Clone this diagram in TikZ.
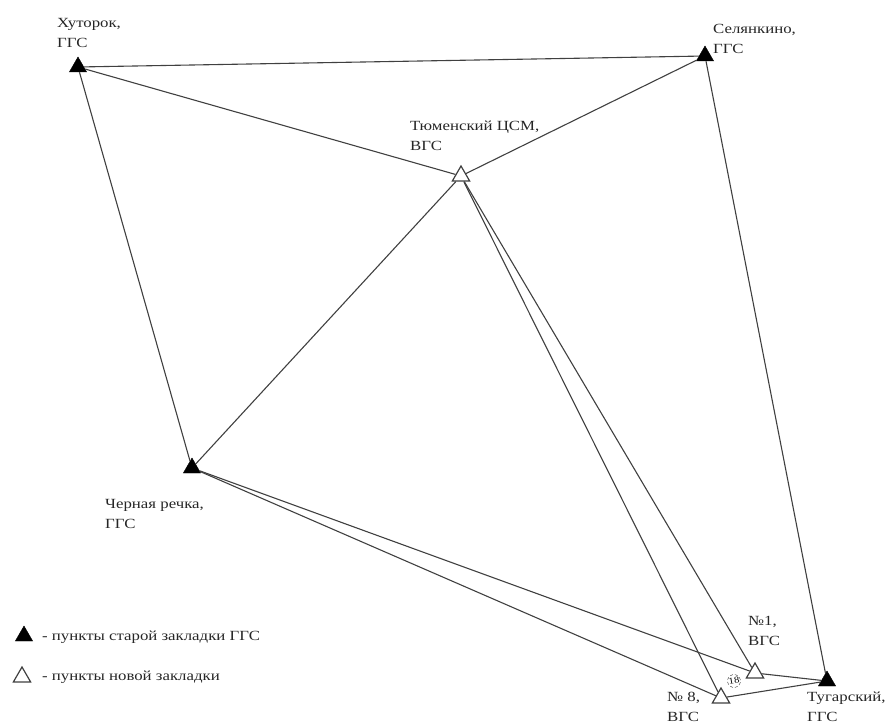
\documentclass[tikz,border=0pt]{standalone}
\usepackage{fontspec}
\setmainfont{Liberation Serif}[FakeStretch=1.2]
\usetikzlibrary{shapes.geometric}

\tikzset{
  oldpt/.style={regular polygon, regular polygon sides=3, minimum size=20pt,
    inner sep=0pt, fill=black, draw=black},
  newpt/.style={regular polygon, regular polygon sides=3, minimum size=20pt,
    inner sep=0pt, fill=white, draw=black!75, line width=1.2pt},
  ptlabel/.style={anchor=north west, align=left, inner sep=0pt,
    text=black!85, font=\fontsize{14}{20}\selectfont},
  legtext/.style={anchor=base west, inner sep=0pt,
    text=black!85, font=\fontsize{14}{20}\selectfont},
  link/.style={line width=1.1pt, draw=black!75},
}

\begin{document}
\begin{tikzpicture}[x=1pt, y=-1pt]
  \useasboundingbox (0,0) rectangle (887,725);
  % old points (ГГС)
  \node[oldpt] (khut) at (78,67)  {};
  \node[oldpt] (sel)  at (705,56) {};
  \node[oldpt] (cher) at (192,468) {};
  \node[oldpt] (tug)  at (827,681) {};
  % new points (ВГС)
  \node[newpt] (tsm)  at (461,176) {};
  \node[newpt] (no1)  at (755,673) {};
  \node[newpt] (no8)  at (721,698) {};
  % point labels
  \node[ptlabel] (khutlbl) at (57,18)   {Хуторок,\\ГГС};
  \node[ptlabel] (sellbl)  at (713,24)  {Селянкино,\\ГГС};
  \node[ptlabel] (tsmlbl)  at (410,121) {Тюменский ЦСМ,\\ВГС};
  \node[ptlabel] (cherlbl) at (105,499) {Черная речка,\\ГГС};
  \node[ptlabel] (no1lbl)  at (748,616) {№1,\\ВГС};
  \node[ptlabel] (no8lbl)  at (667,692) {№ 8,\\ВГС};
  \node[ptlabel] (tuglbl)  at (807,692) {Тугарский,\\ГГС};
  % small mark between №8 and №1
  \node[circle, draw=black!80, densely dashed, inner sep=0.2pt, rotate=10,
    font=\fontsize{9}{9}\selectfont] (mark) at (734,681) {18};
  % observed lines
  \draw[link] (khut) -- (sel);
  \draw[link] (khut) -- (tsm);
  \draw[link] (khut) -- (cher);
  \draw[link] (sel)  -- (tsm);
  \draw[link] (sel)  -- (tug);
  \draw[link] (tsm)  -- (cher);
  \draw[link] (tsm)  -- (no1);
  \draw[link] (tsm)  -- (no8);
  \draw[link] (cher) -- (no1);
  \draw[link] (cher) -- (no8);
  \draw[link] (no1)  -- (tug);
  \draw[link] (no8)  -- (tug);
  % legend
  \node[oldpt] (legold) at (24,636) {};
  \node[legtext] (legoldtxt) at (42,640) {- пункты старой закладки ГГС};
  \node[newpt] (legnew) at (22,677) {};
  \node[legtext] (legnewtxt) at (42,680) {- пункты новой закладки};
\end{tikzpicture}
\end{document}
